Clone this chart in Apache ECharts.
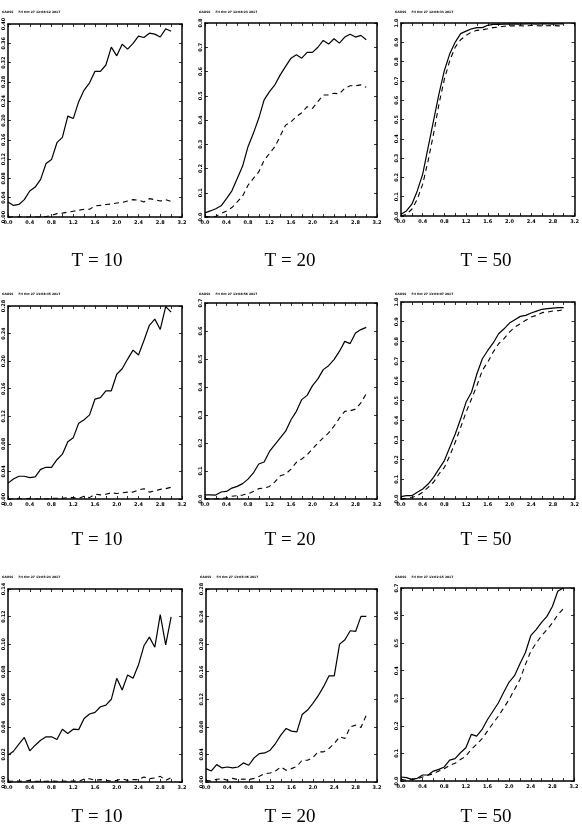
<!DOCTYPE html>
<html>
<head>
<meta charset="utf-8">
<script src="https://cdn.jsdelivr.net/npm/echarts@6/dist/echarts.min.js"></script>
<style>
html, body { margin: 0; padding: 0; background: #fff; }
#chart { width: 582px; height: 829px; }
</style>
</head>
<body>
<div id="chart"></div>
<script>
// x grid shared by every panel
let xs = [0.0, 0.1, 0.2, 0.3, 0.4, 0.5, 0.6, 0.7, 0.8, 0.9, 1.0, 1.1, 1.2, 1.3, 1.4, 1.5,
          1.6, 1.7, 1.8, 1.9, 2.0, 2.1, 2.2, 2.3, 2.4, 2.5, 2.6, 2.7, 2.8, 2.9, 3.0]

// row 1
let solid1 = [0.031, 0.024, 0.026, 0.036, 0.054, 0.062, 0.078, 0.111, 0.119, 0.154, 0.165, 0.209, 0.204, 0.239, 0.263, 0.278,
              0.302, 0.302, 0.315, 0.352, 0.334, 0.358, 0.348, 0.360, 0.375, 0.372, 0.381, 0.379, 0.373, 0.390, 0.385]
let dash1 = [0.000, 0.000, 0.000, 0.000, 0.000, 0.000, 0.000, 0.001, 0.003, 0.007, 0.008, 0.010, 0.012, 0.014, 0.016, 0.016,
             0.023, 0.024, 0.026, 0.027, 0.029, 0.030, 0.033, 0.036, 0.035, 0.031, 0.038, 0.036, 0.033, 0.036, 0.032]
let solid2 = [0.017, 0.025, 0.034, 0.046, 0.076, 0.108, 0.159, 0.210, 0.290, 0.345, 0.407, 0.483, 0.517, 0.545, 0.586, 0.621,
              0.655, 0.669, 0.655, 0.679, 0.679, 0.700, 0.728, 0.713, 0.735, 0.717, 0.742, 0.754, 0.742, 0.749, 0.731]
let dash2 = [0.003, 0.000, 0.003, 0.014, 0.025, 0.039, 0.062, 0.086, 0.131, 0.159, 0.186, 0.234, 0.262, 0.290, 0.334, 0.379,
             0.393, 0.414, 0.430, 0.455, 0.448, 0.476, 0.503, 0.503, 0.510, 0.508, 0.531, 0.541, 0.541, 0.545, 0.535]
let solid3 = [0.009, 0.026, 0.061, 0.130, 0.217, 0.355, 0.494, 0.633, 0.754, 0.841, 0.901, 0.945, 0.958, 0.970, 0.976, 0.976,
              0.988, 0.993, 0.993, 0.994, 0.994, 0.995, 0.994, 0.995, 0.995, 0.994, 0.995, 0.995, 0.994, 0.995, 0.995]
let dash3 = [0.000, 0.009, 0.035, 0.087, 0.165, 0.286, 0.425, 0.580, 0.710, 0.806, 0.875, 0.913, 0.936, 0.953, 0.962, 0.965,
             0.970, 0.976, 0.979, 0.983, 0.985, 0.985, 0.986, 0.985, 0.987, 0.986, 0.985, 0.986, 0.987, 0.985, 0.986]

// row 2
let solid4 = [0.023, 0.029, 0.033, 0.033, 0.031, 0.032, 0.043, 0.046, 0.046, 0.057, 0.065, 0.083, 0.089, 0.110, 0.115, 0.122,
              0.145, 0.147, 0.157, 0.157, 0.181, 0.189, 0.203, 0.216, 0.209, 0.230, 0.252, 0.261, 0.246, 0.279, 0.271]
let dash4 = [0.000, 0.000, 0.001, 0.000, 0.001, 0.000, 0.000, 0.000, 0.001, 0.001, 0.001, 0.002, 0.002, 0.001, 0.004, 0.002,
             0.007, 0.006, 0.007, 0.009, 0.008, 0.009, 0.010, 0.010, 0.013, 0.015, 0.010, 0.012, 0.014, 0.015, 0.017]
let solid5 = [0.015, 0.015, 0.014, 0.025, 0.027, 0.039, 0.045, 0.055, 0.071, 0.093, 0.125, 0.132, 0.170, 0.194, 0.218, 0.242,
              0.283, 0.313, 0.355, 0.370, 0.405, 0.429, 0.462, 0.476, 0.498, 0.527, 0.563, 0.555, 0.593, 0.605, 0.613]
let dash5 = [0.002, 0.000, 0.000, 0.002, 0.004, 0.010, 0.012, 0.014, 0.019, 0.027, 0.037, 0.039, 0.045, 0.061, 0.083, 0.089,
             0.107, 0.131, 0.143, 0.158, 0.179, 0.200, 0.218, 0.236, 0.260, 0.289, 0.313, 0.315, 0.321, 0.343, 0.376]
let solid6 = [0.012, 0.017, 0.017, 0.034, 0.051, 0.076, 0.110, 0.153, 0.195, 0.263, 0.330, 0.407, 0.492, 0.542, 0.636, 0.712,
              0.754, 0.792, 0.839, 0.864, 0.893, 0.910, 0.927, 0.932, 0.944, 0.954, 0.963, 0.966, 0.969, 0.971, 0.971]
let dash6 = [0.000, 0.003, 0.008, 0.017, 0.034, 0.059, 0.085, 0.127, 0.161, 0.220, 0.288, 0.364, 0.441, 0.508, 0.576, 0.653,
             0.695, 0.746, 0.788, 0.814, 0.847, 0.873, 0.890, 0.907, 0.924, 0.932, 0.946, 0.949, 0.954, 0.956, 0.961]

// row 3
let solid7 = [0.0194, 0.0223, 0.0274, 0.0323, 0.0226, 0.0267, 0.0303, 0.0328, 0.0328, 0.0308, 0.0383, 0.0352, 0.0383, 0.0380, 0.0461, 0.0493,
              0.0505, 0.0546, 0.0558, 0.0600, 0.0752, 0.0667, 0.0777, 0.0752, 0.0850, 0.0988, 0.1051, 0.0978, 0.1214, 0.0995, 0.1197]
let dash7 = [0.0007, 0.0005, 0.0007, 0.0005, 0.0012, 0.0005, 0.0005, 0.0005, 0.0007, 0.0005, 0.0007, 0.0005, 0.0007, 0.0005, 0.0022, 0.0024,
             0.0012, 0.0017, 0.0012, 0.0007, 0.0012, 0.0022, 0.0012, 0.0017, 0.0017, 0.0036, 0.0024, 0.0029, 0.0041, 0.0012, 0.0032]
let solid8 = [0.0194, 0.0160, 0.0252, 0.0204, 0.0218, 0.0204, 0.0218, 0.0277, 0.0243, 0.0350, 0.0413, 0.0422, 0.0461, 0.0558, 0.0680, 0.0777,
              0.0738, 0.0728, 0.0980, 0.1044, 0.1141, 0.1252, 0.1383, 0.1539, 0.1539, 0.2000, 0.2063, 0.2194, 0.2184, 0.2403, 0.2403]
let dash8 = [0.0024, 0.0015, 0.0039, 0.0049, 0.0024, 0.0053, 0.0034, 0.0044, 0.0034, 0.0053, 0.0083, 0.0121, 0.0131, 0.0160, 0.0218, 0.0170,
             0.0194, 0.0228, 0.0316, 0.0316, 0.0354, 0.0437, 0.0437, 0.0485, 0.0558, 0.0655, 0.0631, 0.0801, 0.0825, 0.0791, 0.0971]
let solid9 = [0.0145, 0.012, 0.006, 0.0097, 0.0217, 0.0217, 0.036, 0.042, 0.051, 0.076, 0.081, 0.1025, 0.1206, 0.169, 0.163, 0.187,
              0.223, 0.253, 0.283, 0.322, 0.359, 0.382, 0.425, 0.465, 0.527, 0.549, 0.575, 0.597, 0.633, 0.688, 0.700]
let dash9 = [0.006, 0.0024, 0.006, 0.0084, 0.0145, 0.0205, 0.0265, 0.036, 0.0446, 0.057, 0.064, 0.078, 0.090, 0.115, 0.133, 0.154,
             0.181, 0.209, 0.235, 0.265, 0.296, 0.332, 0.368, 0.422, 0.470, 0.500, 0.527, 0.549, 0.573, 0.603, 0.624]

let solids = [solid1, solid2, solid3, solid4, solid5, solid6, solid7, solid8, solid9]
let dashes = [dash1, dash2, dash3, dash4, dash5, dash6, dash7, dash8, dash9]

// y axis tick labels per panel: max, step, decimals
let yMax = [0.40, 0.8, 1.0, 0.28, 0.7, 1.0, 0.14, 0.28, 0.7]
let yStep = [0.04, 0.1, 0.1, 0.04, 0.1, 0.1, 0.02, 0.04, 0.1]
let yDigits = [2, 1, 1, 2, 1, 1, 2, 2, 1]

let captions = ['T = 10', 'T = 20', 'T = 50']
let headers = [
    'Fri Oct 27 12:08:12 2017', 'Fri Oct 27 12:08:23 2017', 'Fri Oct 27 12:08:33 2017',
    'Fri Oct 27 13:08:45 2017', 'Fri Oct 27 13:08:56 2017', 'Fri Oct 27 13:09:07 2017',
    'Fri Oct 27 13:05:24 2017', 'Fri Oct 27 13:05:46 2017', 'Fri Oct 27 13:02:15 2017'
]

// plot box of each panel [left, top, width, height]
let boxes = [
    [8, 24, 174, 193], [205, 23, 172, 194], [401, 23, 174, 193],
    [8, 306, 174, 193], [205, 303, 172, 196], [401, 302, 174, 197],
    [8, 589, 174, 193], [206, 589, 171, 193], [401, 588, 173, 193]
]
let headerY = [13, 295, 578]
let captionY = [261, 540, 817]
let captionX = [97, 290, 486]

let chart = echarts.init(document.getElementById('chart'))

let grids = [], xAxes = [], yAxes = [], series = [], graphics = []
let lineColor = '#000'
for (let i = 0; i < 9; i++) {
    let b = boxes[i]
    grids.push({ left: b[0], top: b[1], width: b[2], height: b[3] })
    let baseX = {
        type: 'value', gridIndex: i, min: 0, max: 3.2, interval: 0.4,
        axisLine: { show: true, onZero: false, lineStyle: { color: lineColor, width: 1.5 } },
        axisTick: { show: true, inside: true, length: 3, lineStyle: { color: lineColor, width: 0.8 } },
        minorTick: { show: true, splitNumber: 2, length: 3, lineStyle: { color: lineColor, width: 0.8 } },
        splitLine: { show: false }
    }
    xAxes.push(Object.assign({}, baseX, {
        position: 'bottom',
        axisLabel: {
            show: true, margin: 3, fontSize: 5, fontWeight: 'bold', color: '#000',
            fontFamily: 'DejaVu Sans',
            formatter: v => v.toFixed(1)
        }
    }))
    xAxes.push(Object.assign({}, baseX, { position: 'top', axisLabel: { show: false } }))
    let baseY = {
        type: 'value', gridIndex: i, min: 0, max: yMax[i], interval: yStep[i],
        axisLine: { show: true, onZero: false, lineStyle: { color: lineColor, width: 1.5 } },
        axisTick: { show: true, inside: true, length: 3, lineStyle: { color: lineColor, width: 0.8 } },
        splitLine: { show: false }
    }
    let digits = yDigits[i]
    yAxes.push(Object.assign({}, baseY, {
        position: 'left',
        axisLabel: {
            show: true, margin: 2, rotate: 90, fontSize: 5, fontWeight: 'bold', color: '#000',
            fontFamily: 'DejaVu Sans',
            formatter: v => v.toFixed(digits)
        }
    }))
    yAxes.push(Object.assign({}, baseY, { position: 'right', axisLabel: { show: false } }))

    series.push({
        type: 'line', xAxisIndex: 2 * i, yAxisIndex: 2 * i,
        data: xs.map((x, k) => [x, solids[i][k]]),
        showSymbol: false, symbol: 'none',
        lineStyle: { color: lineColor, width: 1.2, type: 'solid' }
    })
    series.push({
        type: 'line', xAxisIndex: 2 * i, yAxisIndex: 2 * i,
        data: xs.map((x, k) => [x, dashes[i][k]]),
        showSymbol: false, symbol: 'none',
        lineStyle: { color: lineColor, width: 1.1, type: [5, 4] }
    })

    // tiny GAUSS stamp above each plot
    let row = Math.floor(i / 3)
    graphics.push({
        type: 'text', left: b[0] - 6, top: headerY[row] - 2,
        style: { text: 'GAUSS     ' + headers[i], fontSize: 3, fontWeight: 'bold', fill: '#000', fontFamily: 'DejaVu Sans' }
    })
}

// captions under each column
for (let r = 0; r < 3; r++) {
    for (let c = 0; c < 3; c++) {
        graphics.push({
            type: 'text', x: captionX[c], y: captionY[r],
            style: {
                text: captions[c], fontSize: 19, fill: '#000',
                fontFamily: 'Liberation Serif', align: 'center', verticalAlign: 'middle'
            }
        })
    }
}

chart.setOption({
    animation: false,
    backgroundColor: '#fff',
    grid: grids,
    xAxis: xAxes,
    yAxis: yAxes,
    series: series,
    graphic: graphics
})

window.addEventListener('resize', () => {
    chart?.resize()
})
</script>
</body>
</html>
